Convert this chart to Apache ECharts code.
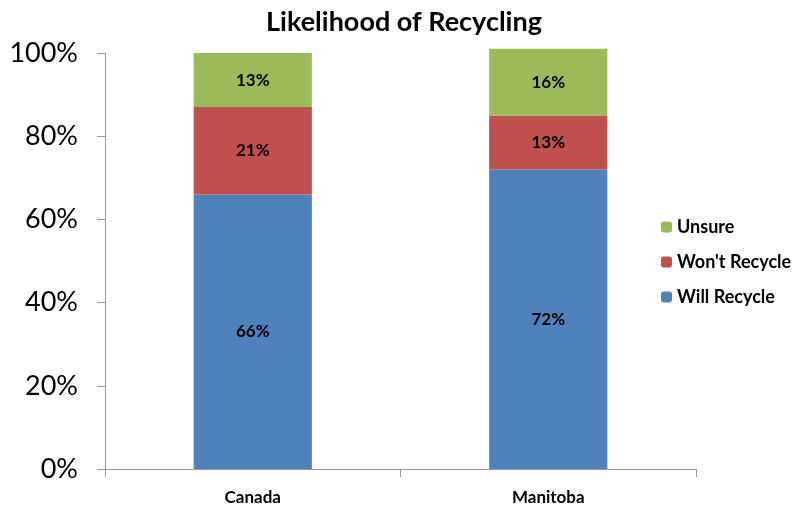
<!DOCTYPE html>
<html>
<head>
<meta charset="utf-8">
<script src="https://cdn.jsdelivr.net/npm/echarts@6/dist/echarts.min.js"></script>
<style>html,body{margin:0;padding:0;background:#fff}#c{width:793px;height:510px}</style>
</head>
<body>
<div id="c"></div>
<script>
const categories = ['Canada', 'Manitoba'];
const willRecycle = [66, 72];
const wontRecycle = [21, 13];
const unsure = [13, 16];
const yTicks = [0, 20, 40, 60, 80, 100];

const font = 'Lato, "Open Sans", sans-serif';
const chart = echarts.init(document.getElementById('c'));
function mk(name, data, color) {
  return {
    name, type: 'bar', stack: 'a', data, barWidth: '40%', clip: false,
    itemStyle: { color },
    label: { show: true, position: 'inside', formatter: '{c}%', color: '#000', fontWeight: 'bold', fontSize: 17, fontFamily: font }
  };
}
chart.setOption({
  animation: false,
  title: { text: 'Likelihood of Recycling', left: 399, textAlign: 'center', top: 4,
    textStyle: { fontFamily: font, fontWeight: 'bold', fontSize: 27, color: '#000' } },
  grid: { left: 105, right: 97, top: 53, bottom: 41 },
  legend: {
    orient: 'vertical', left: 656, top: 212, itemWidth: 11, itemHeight: 11, itemGap: 15,
    data: ['Unsure', "Won't Recycle", 'Will Recycle'],
    textStyle: { fontFamily: font, fontWeight: 'bold', fontSize: 18, color: '#000', lineHeight: 20 }
  },
  xAxis: {
    type: 'category', data: categories,
    axisLine: { lineStyle: { color: '#999' } },
    axisTick: { show: true, length: 8, lineStyle: { color: '#999' } },
    axisLabel: { color: '#000', fontWeight: 'bold', fontSize: 17, fontFamily: font, margin: 20 }
  },
  yAxis: {
    type: 'value', min: 0, max: 100, interval: 20,
    axisLine: { show: true, lineStyle: { color: '#999' } },
    axisTick: { show: true, length: 8, lineStyle: { color: '#999' } },
    splitLine: { show: false },
    axisLabel: { color: '#000', fontSize: 27, fontFamily: font, margin: 27,
      formatter: v => yTicks.includes(v) ? v + '%' : '' }
  },
  series: [
    mk('Will Recycle', willRecycle, '#4F81BD'),
    mk("Won't Recycle", wontRecycle, '#C0504D'),
    mk('Unsure', unsure, '#9BBB59')
  ]
});
</script>
</body>
</html>
